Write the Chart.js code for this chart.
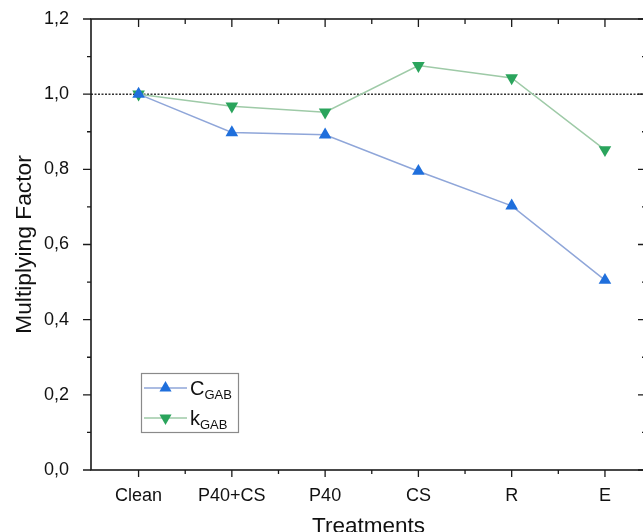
<!DOCTYPE html>
<html>
<head>
<meta charset="utf-8">
<script src="https://cdn.jsdelivr.net/npm/chart.js@4.4.0/dist/chart.umd.min.js"></script>
<style>
  html, body { margin: 0; padding: 0; background: #fff; overflow: hidden; }
  #wrap { width: 660px; height: 532px; position: relative; }
</style>
</head>
<body>
<div id="wrap"><canvas id="c" width="660" height="532"></canvas></div>
<script>
// ---- data ----
const categories = ["Clean", "P40+CS", "P40", "CS", "R", "E"];
const cGAB = [1.0, 0.898, 0.892, 0.795, 0.703, 0.505];
const kGAB = [1.0, 0.968, 0.952, 1.076, 1.043, 0.852];
const yTicks = [0, 0.2, 0.4, 0.6, 0.8, 1.0, 1.2];
const refLine = 1.0;

const blueMark = '#1f6fdc', blueLine = '#8fa6d9';
const greenMark = '#2aa45c', greenLine = '#9ecaa7';
const axisColor = '#1a1a1a';
const FONT = "'Liberation Sans', Arial, sans-serif";

function tri(ctx, x, y, r, down, color) {
  ctx.save();
  ctx.fillStyle = color;
  ctx.beginPath();
  let rad = down ? Math.PI : 0;
  for (let i = 0; i < 3; i++) {
    const px = x + Math.sin(rad) * r, py = y - Math.cos(rad) * r;
    if (i === 0) ctx.moveTo(px, py); else ctx.lineTo(px, py);
    rad += 2 * Math.PI / 3;
  }
  ctx.closePath();
  ctx.fill();
  ctx.restore();
}

const framePlugin = {
  id: 'frame',
  beforeDatasetsDraw(chart) {
    const {ctx, chartArea: a, scales: {x, y}} = chart;
    ctx.save();
    // dotted reference line
    ctx.strokeStyle = '#333';
    ctx.lineWidth = 1.5;
    ctx.setLineDash([2, 1.5]);
    const yr = y.getPixelForValue(refLine);
    ctx.beginPath(); ctx.moveTo(a.left, yr); ctx.lineTo(a.right, yr); ctx.stroke();
    ctx.setLineDash([]);
    // box
    ctx.strokeStyle = axisColor;
    ctx.lineWidth = 1.6;
    ctx.strokeRect(a.left, a.top, a.right - a.left, a.bottom - a.top);
    ctx.lineWidth = 1.3;
    // x ticks (bottom outward, top inward)
    for (let i = 0; i < categories.length; i++) {
      const px = x.getPixelForValue(i);
      ctx.beginPath();
      ctx.moveTo(px, a.bottom); ctx.lineTo(px, a.bottom + 7);
      ctx.moveTo(px, a.top); ctx.lineTo(px, a.top + 8);
      ctx.stroke();
      const pm = x.getPixelForValue(i + 0.5);
      if (pm < a.right - 2) {
        ctx.beginPath();
        ctx.moveTo(pm, a.bottom); ctx.lineTo(pm, a.bottom + 4);
        ctx.moveTo(pm, a.top); ctx.lineTo(pm, a.top + 5);
        ctx.stroke();
      }
    }
    // y ticks (left outward, right inward)
    for (let k = 0; k <= 12; k++) {
      const v = k / 10;
      const py = y.getPixelForValue(v);
      const L = k % 2 === 0 ? 8 : 4;
      ctx.beginPath();
      ctx.moveTo(a.left, py); ctx.lineTo(a.left - L, py);
      ctx.moveTo(a.right, py); ctx.lineTo(a.right - L, py);
      ctx.stroke();
    }
    ctx.restore();
  },
  afterDraw(chart) {
    const {ctx} = chart;
    const ds = chart.data.datasets;
    ctx.save();
    // legend box
    const bx = 141.5, by = 373.5, bw = 97, bh = 59;
    ctx.fillStyle = '#fff';
    ctx.fillRect(bx, by, bw, bh);
    ctx.strokeStyle = '#8a8a8a';
    ctx.lineWidth = 1.2;
    ctx.strokeRect(bx, by, bw, bh);
    const rows = [
      {y: 388, main: 'C', sub: 'GAB', d: ds[0], down: false},
      {y: 418, main: 'k', sub: 'GAB', d: ds[1], down: true}
    ];
    rows.forEach(r => {
      ctx.strokeStyle = r.d.borderColor;
      ctx.lineWidth = 1.5;
      ctx.beginPath(); ctx.moveTo(144, r.y); ctx.lineTo(187, r.y); ctx.stroke();
      tri(ctx, 165.5, r.y, 7, r.down, r.d.pointBackgroundColor);
      ctx.fillStyle = '#111';
      ctx.textBaseline = 'alphabetic';
      ctx.textAlign = 'left';
      ctx.font = '20px ' + FONT;
      ctx.fillText(r.main, 190, r.y + 7);
      const w = ctx.measureText(r.main).width;
      ctx.font = '13px ' + FONT;
      ctx.fillText(r.sub, 190 + w, r.y + 11);
    });
    ctx.restore();
  }
};

new Chart(document.getElementById('c'), {
  type: 'line',
  data: {
    datasets: [
      {
        label: 'CGAB',
        data: cGAB.map((v, i) => ({x: i, y: v})),
        borderColor: blueLine,
        backgroundColor: blueMark,
        pointBackgroundColor: blueMark,
        pointBorderColor: blueMark,
        pointBorderWidth: 0,
        pointStyle: 'triangle',
        pointRadius: 7.3,
        pointRotation: 0,
        borderWidth: 1.5,
        tension: 0
      },
      {
        label: 'kGAB',
        data: kGAB.map((v, i) => ({x: i, y: v})),
        borderColor: greenLine,
        backgroundColor: greenMark,
        pointBackgroundColor: greenMark,
        pointBorderColor: greenMark,
        pointBorderWidth: 0,
        pointStyle: 'triangle',
        pointRadius: 7.3,
        pointRotation: 180,
        borderWidth: 1.5,
        tension: 0
      }
    ]
  },
  options: {
    responsive: false,
    animation: false,
    events: [],
    layout: { padding: { top: 19, right: 14, bottom: 0, left: 0 } },
    plugins: { legend: { display: false }, tooltip: { enabled: false } },
    scales: {
      x: {
        type: 'linear',
        min: -0.51,
        max: 5.44,
        afterBuildTicks(s) { s.ticks = categories.map((_, i) => ({value: i})); },
        afterFit(s) { s.height = 62; s.paddingLeft = 0; s.paddingRight = 0; },
        grid: { display: false },
        border: { display: false },
        ticks: {
          callback: (v) => categories[v],
          color: '#111',
          font: { family: FONT, size: 18 },
          padding: 7,
          maxRotation: 0,
          autoSkip: false
        },
        title: {
          display: true,
          text: 'Treatments',
          color: '#111',
          font: { family: FONT, size: 22.5, lineHeight: 0.5 },
          padding: { top: 0, bottom: 0 }
        }
      },
      y: {
        min: 0,
        max: 1.2,
        afterBuildTicks(s) { s.ticks = yTicks.map(v => ({value: v})); },
        afterFit(s) { s.width = 91; s.paddingTop = 0; s.paddingBottom = 0; },
        grid: { display: false },
        border: { display: false },
        ticks: {
          callback: (v) => v.toFixed(1).replace('.', ','),
          color: '#111',
          font: { family: FONT, size: 18 },
          padding: 14
        },
        title: {
          display: true,
          text: 'Multiplying Factor',
          color: '#111',
          font: { family: FONT, size: 22.8, lineHeight: 1 },
          padding: { top: 13, bottom: 0 }
        }
      }
    }
  },
  plugins: [framePlugin]
});
</script>
</body>
</html>
